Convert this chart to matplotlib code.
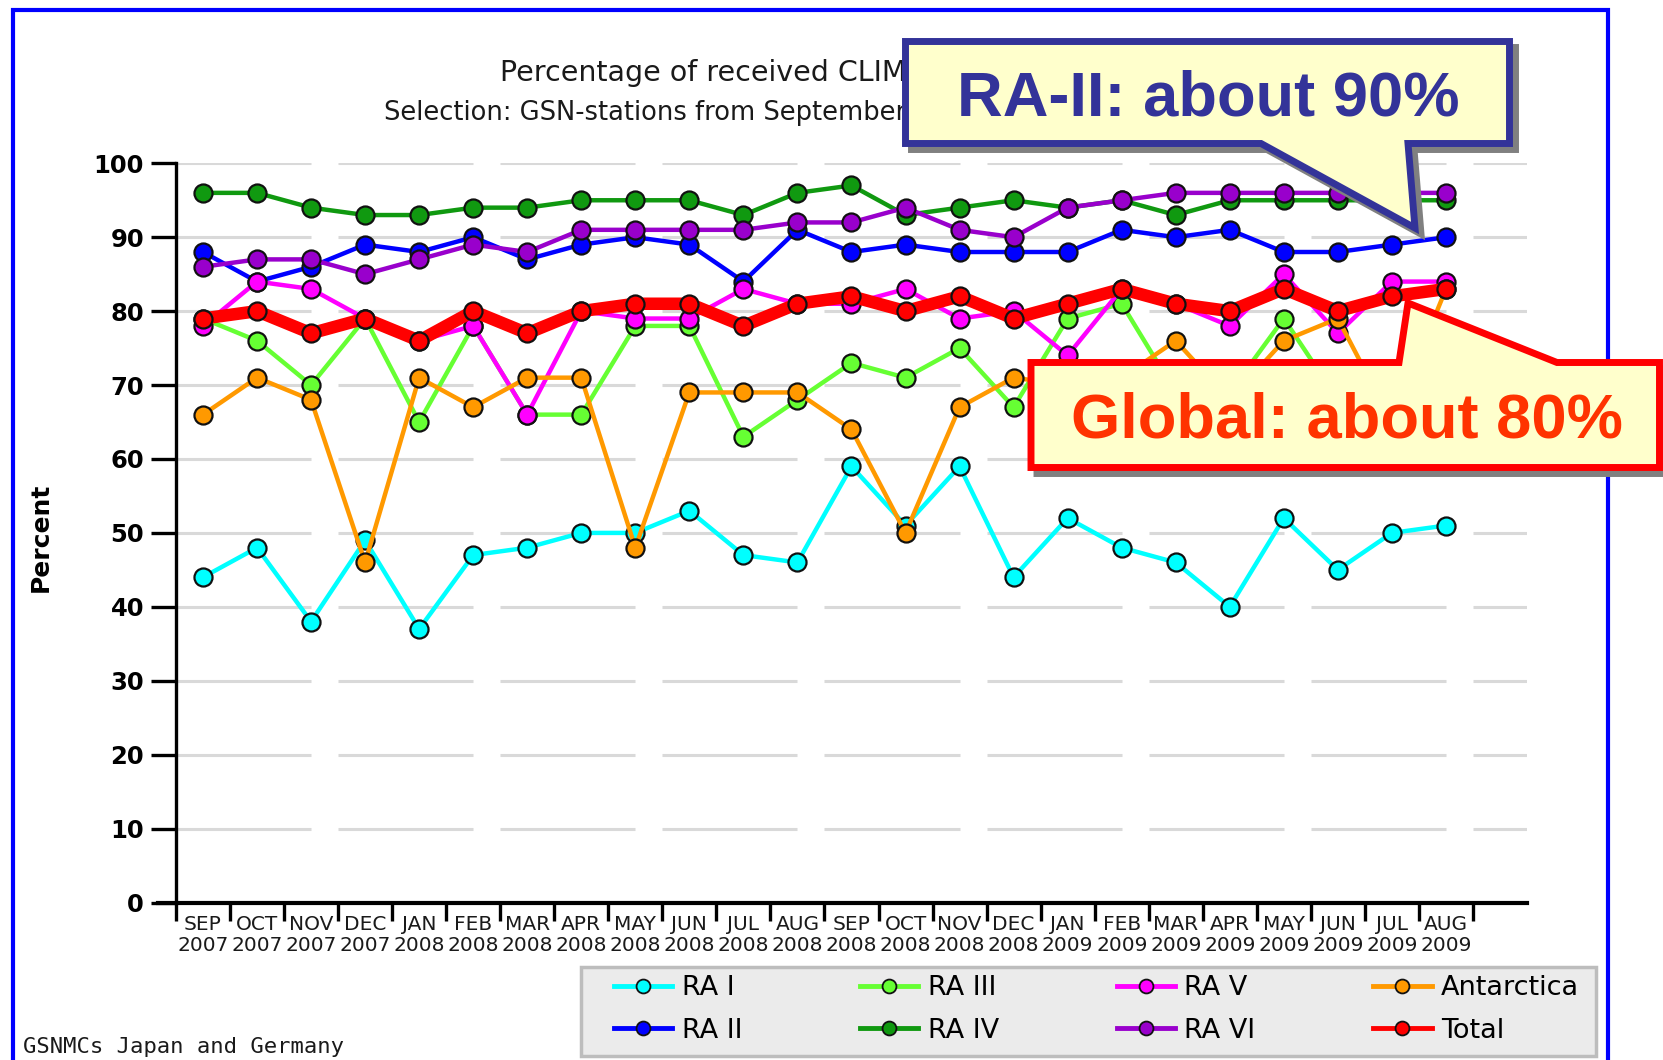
import matplotlib.pyplot as plt
from matplotlib.lines import Line2D
from matplotlib.patches import Polygon, Rectangle
import numpy as np

W, H = 1663, 1060

meses = ["SEP", "OCT", "NOV", "DEC", "JAN", "FEB", "MAR", "APR", "MAY", "JUN", "JUL", "AUG",
         "SEP", "OCT", "NOV", "DEC", "JAN", "FEB", "MAR", "APR", "MAY", "JUN", "JUL", "AUG"]
anios = ["2007", "2007", "2007", "2007", "2008", "2008", "2008", "2008", "2008", "2008", "2008", "2008",
         "2008", "2008", "2008", "2008", "2009", "2009", "2009", "2009", "2009", "2009", "2009", "2009"]

ra1 = [44, 48, 38, 49, 37, 47, 48, 50, 50, 53, 47, 46, 59, 51, 59, 44, 52, 48, 46, 40, 52, 45, 50, 51]
ra2 = [88, 84, 86, 89, 88, 90, 87, 89, 90, 89, 84, 91, 88, 89, 88, 88, 88, 91, 90, 91, 88, 88, 89, 90]
ra3 = [79, 76, 70, 79, 65, 78, 66, 66, 78, 78, 63, 68, 73, 71, 75, 67, 79, 81, 69, 69, 79, 68, 70, 71]
ra4 = [96, 96, 94, 93, 93, 94, 94, 95, 95, 95, 93, 96, 97, 93, 94, 95, 94, 95, 93, 95, 95, 95, 95, 95]
ra5 = [78, 84, 83, 79, 76, 78, 66, 80, 79, 79, 83, 81, 81, 83, 79, 80, 74, 83, 81, 78, 85, 77, 84, 84]
ra6 = [86, 87, 87, 85, 87, 89, 88, 91, 91, 91, 91, 92, 92, 94, 91, 90, 94, 95, 96, 96, 96, 96, 96, 96]
antartida = [66, 71, 68, 46, 71, 67, 71, 71, 48, 69, 69, 69, 64, 50, 67, 71, 70, 71, 76, 68, 76, 79, 65, 83]
total = [79, 80, 77, 79, 76, 80, 77, 80, 81, 81, 78, 81, 82, 80, 82, 79, 81, 83, 81, 80, 83, 80, 82, 83]

nombres = ["RA I", "RA II", "RA III", "RA IV", "RA V", "RA VI", "Antarctica", "Total"]
series = [ra1, ra2, ra3, ra4, ra5, ra6, antartida, total]
colores = ["#00ffff", "#0000ff", "#66ff33", "#109910", "#ff00ff", "#9900cc", "#ff9900", "#ff0000"]


def px(x, y):
    # pixel (origen arriba a la izquierda) -> fraccion de figura
    return (x / W, 1 - y / H)


fig = plt.figure(figsize=(W / 100, H / 100), dpi=100)
fig.patch.set_facecolor("white")

# marco azul
fig.add_artist(Rectangle((12.5 / W, -0.1), 1595 / W, 1.1 - 10 / H, transform=fig.transFigure,
                         fill=False, ec="#0000ff", lw=3, zorder=0.5))

ax = fig.add_axes([157.6 / W, 1 - 902.5 / H, (1527 - 157.6) / W, (902.5 - 163.3) / H])
ax.set_xlim(-0.84, 24.5)
ax.set_ylim(0, 100)
for s in ["top", "right"]:
    ax.spines[s].set_visible(False)
ax.spines["left"].set_position(("data", -0.5))
ax.spines["left"].set_bounds(0, 100)
ax.spines["left"].set_linewidth(2.4)
ax.spines["bottom"].set_linewidth(3)

x = np.arange(len(meses))

# lineas de rejilla cortadas
inicios = np.arange(-0.5, 24.5, 3)
fines = np.minimum(inicios + 2.5, 24.5)
for g in range(10, 101, 10):
    ax.hlines([g] * len(inicios), inicios, fines, color="#d9d9d9", lw=2.2, zorder=1)

for k, (vals, c) in enumerate(zip(series, colores)):
    lw = 9 if nombres[k] == "Total" else 3.2
    ax.plot(x, vals, color=c, lw=lw, marker="o", ms=13, mfc=c, mec="#111111", mew=1.6,
            zorder=3 + k, clip_on=False)

ax.set_yticks(range(0, 101, 10))
ax.set_yticklabels([str(v) for v in range(0, 101, 10)], fontsize=17.5, fontweight="bold")
ax.tick_params(axis="y", length=18, width=2.4, pad=5)

ax.set_xticks(np.arange(-0.5, 24, 1))
ax.set_xticklabels([])
ax.set_xticks(x, minor=True)
ax.set_xticklabels([m + "\n" + a for m, a in zip(meses, anios)], minor=True,
                   fontsize=14.5, color="#1a1a1a", linespacing=1.15)
ax.tick_params(axis="x", which="major", length=13, width=2.4)
ax.tick_params(axis="x", which="minor", length=0, pad=9)

fig.text(*px(41, 537), "Percent", rotation=90, ha="center", va="center",
         fontsize=18, fontweight="bold")

fig.text(*px(500, 81), "Percentage of received CLIMAT messages", fontsize=20.5,
         ha="left", va="baseline", color="#1a1a1a")
fig.text(*px(384, 120), "Selection: GSN-stations from September 2007 to August 2009",
         fontsize=18.5, ha="left", va="baseline", color="#1a1a1a")

fig.text(*px(23, 1047), "GSNMCs Japan and Germany", family="DejaVu Sans Mono",
         fontsize=16, ha="left", va="center", color="#1a1a1a")

# caja de la leyenda
fig.add_artist(Rectangle(px(581, 1056), 1015 / W, 89 / H, transform=fig.transFigure,
                         fc="#ebebeb", ec="#bdbdbd", lw=2.5, zorder=2))
handles = [Line2D([0], [0], color=c, lw=3.5, marker="o", ms=10, mfc=c, mec="#111111", mew=1.3)
           for c in colores]
leg = fig.legend(handles, nombres, loc="upper left", bbox_to_anchor=px(614, 975),
                 bbox_transform=fig.transFigure, ncol=4, fontsize=19.5, frameon=False,
                 handlelength=2.15, handletextpad=0.35, columnspacing=4.35,
                 labelspacing=0.62, borderpad=0, borderaxespad=0)
leg.set_zorder(3)


def globo(puntos, borde, sombra=6):
    sh = [px(a + sombra, b + sombra) for a, b in puntos]
    fig.add_artist(Polygon(sh, closed=True, transform=fig.transFigure, fc="#808080",
                           ec="#808080", lw=5, joinstyle="miter", zorder=10))
    fig.add_artist(Polygon([px(a, b) for a, b in puntos], closed=True, transform=fig.transFigure,
                           fc="#ffffcc", ec=borde, lw=5, joinstyle="miter", zorder=11))


globo([(905.5, 41.5), (1509.5, 41.5), (1509.5, 143.5), (1408, 143.5), (1415, 228),
       (1261, 143.5), (905.5, 143.5)], "#333399")
fig.text(*px(1208, 116), "RA-II: about 90%", ha="center", va="baseline", fontsize=45.5,
         fontweight="bold", family="Liberation Sans", color="#333399", zorder=12)

globo([(1031, 362.5), (1399, 362.5), (1408, 303), (1557, 362.5), (1659.5, 362.5),
       (1659.5, 467.5), (1031, 467.5)], "#ff0000")
fig.text(*px(1347, 437.7), "Global: about 80%", ha="center", va="baseline", fontsize=45.5,
         fontweight="bold", family="Liberation Sans", color="#ff3300", zorder=12)

fig.savefig("out.png", dpi=100)
